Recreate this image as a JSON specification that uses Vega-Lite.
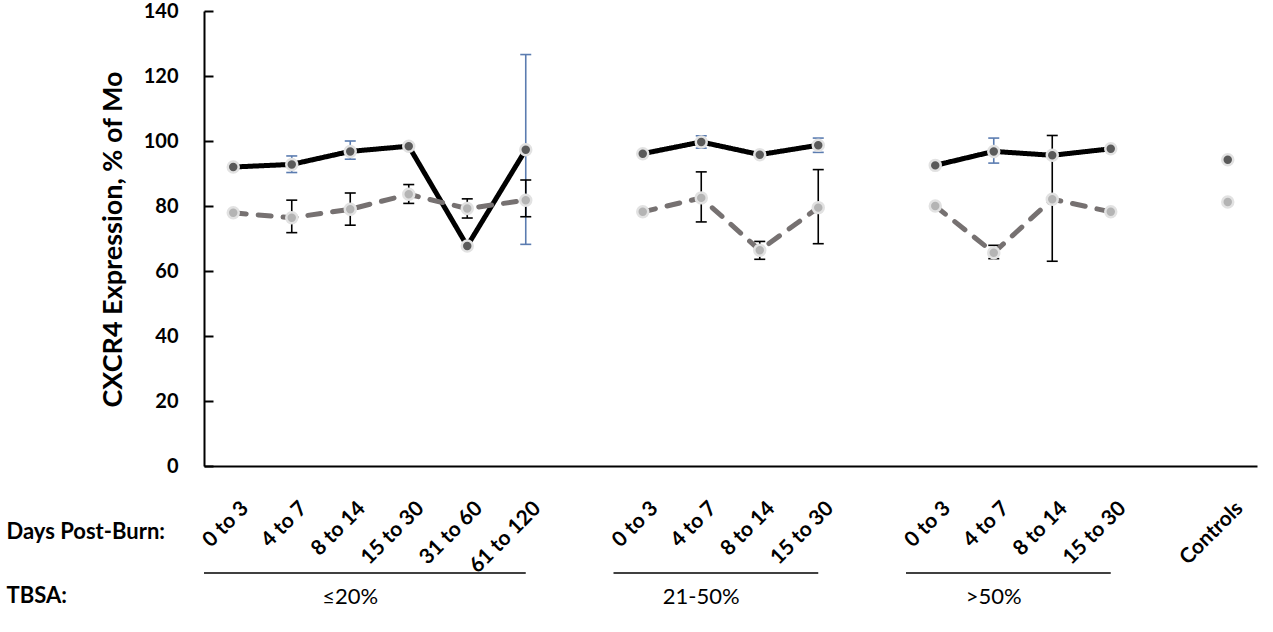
{
  "$schema": "https://vega.github.io/schema/vega-lite/v6.json",
  "padding": {"left": 5, "top": 0, "right": 5, "bottom": 0},
  "bounds": "flush",
  "spacing": 95,
  "datasets": {
    "points": [
      {"series": "CD14+CD16+", "group": "≤20%", "slot": "0 to 3", "pct": 92.0},
      {"series": "CD14+CD16+", "group": "≤20%", "slot": "4 to 7", "pct": 92.8, "lo": 90.3, "hi": 95.4},
      {"series": "CD14+CD16+", "group": "≤20%", "slot": "8 to 14", "pct": 96.8, "lo": 94.4, "hi": 100.0},
      {"series": "CD14+CD16+", "group": "≤20%", "slot": "15 to 30", "pct": 98.4},
      {"series": "CD14+CD16+", "group": "≤20%", "slot": "31 to 60", "pct": 67.7},
      {"series": "CD14+CD16+", "group": "≤20%", "slot": "61 to 120", "pct": 97.3, "lo": 68.2, "hi": 126.6},
      {"series": "CD14+CD16+", "group": "21-50%", "slot": " 0 to 3", "pct": 96.1},
      {"series": "CD14+CD16+", "group": "21-50%", "slot": " 4 to 7", "pct": 99.7, "lo": 97.8, "hi": 101.6},
      {"series": "CD14+CD16+", "group": "21-50%", "slot": " 8 to 14", "pct": 95.8},
      {"series": "CD14+CD16+", "group": "21-50%", "slot": " 15 to 30", "pct": 98.7, "lo": 96.5, "hi": 100.9},
      {"series": "CD14+CD16+", "group": ">50%", "slot": "  0 to 3", "pct": 92.5},
      {"series": "CD14+CD16+", "group": ">50%", "slot": "  4 to 7", "pct": 96.8, "lo": 93.2, "hi": 100.9},
      {"series": "CD14+CD16+", "group": ">50%", "slot": "  8 to 14", "pct": 95.6},
      {"series": "CD14+CD16+", "group": ">50%", "slot": "  15 to 30", "pct": 97.6},
      {"series": "CD14+CD16+", "group": "Controls", "slot": "Controls", "pct": 94.2},
      {"series": "CD14+CD16-", "group": "≤20%", "slot": "0 to 3", "pct": 77.9},
      {"series": "CD14+CD16-", "group": "≤20%", "slot": "4 to 7", "pct": 76.4, "lo": 71.8, "hi": 81.8},
      {"series": "CD14+CD16-", "group": "≤20%", "slot": "8 to 14", "pct": 79.0, "lo": 74.1, "hi": 84.0},
      {"series": "CD14+CD16-", "group": "≤20%", "slot": "15 to 30", "pct": 83.6, "lo": 80.8, "hi": 86.6},
      {"series": "CD14+CD16-", "group": "≤20%", "slot": "31 to 60", "pct": 79.2, "lo": 76.3, "hi": 82.2},
      {"series": "CD14+CD16-", "group": "≤20%", "slot": "61 to 120", "pct": 81.8, "lo": 76.7, "hi": 88.0},
      {"series": "CD14+CD16-", "group": "21-50%", "slot": " 0 to 3", "pct": 78.2},
      {"series": "CD14+CD16-", "group": "21-50%", "slot": " 4 to 7", "pct": 82.5, "lo": 75.1, "hi": 90.5},
      {"series": "CD14+CD16-", "group": "21-50%", "slot": " 8 to 14", "pct": 66.4, "lo": 63.6, "hi": 69.1},
      {"series": "CD14+CD16-", "group": "21-50%", "slot": " 15 to 30", "pct": 79.5, "lo": 68.4, "hi": 91.2},
      {"series": "CD14+CD16-", "group": ">50%", "slot": "  0 to 3", "pct": 80.0},
      {"series": "CD14+CD16-", "group": ">50%", "slot": "  4 to 7", "pct": 65.6, "lo": 63.8, "hi": 67.9},
      {"series": "CD14+CD16-", "group": ">50%", "slot": "  8 to 14", "pct": 82.1, "lo": 63.0, "hi": 101.7},
      {"series": "CD14+CD16-", "group": ">50%", "slot": "  15 to 30", "pct": 78.2},
      {"series": "CD14+CD16-", "group": "Controls", "slot": "Controls", "pct": 81.2}
    ],
    "groups": [
      {"group": "≤20%", "first": "0 to 3", "last": "61 to 120", "mid": "8 to 14"},
      {"group": "21-50%", "first": " 0 to 3", "last": " 15 to 30", "mid": " 4 to 7"},
      {"group": ">50%", "first": "  0 to 3", "last": "  15 to 30", "mid": "  4 to 7"}
    ]
  },
  "vconcat": [
    {
      "width": 1053,
      "height": 455,
      "view": {"stroke": "transparent"},
      "data": {"name": "points"},
      "encoding": {
        "x": {
          "field": "slot",
          "type": "nominal",
          "scale": {
            "type": "band",
            "domain": ["0 to 3", "4 to 7", "8 to 14", "15 to 30", "31 to 60", "61 to 120", " ",
                       " 0 to 3", " 4 to 7", " 8 to 14", " 15 to 30", "  ",
                       "  0 to 3", "  4 to 7", "  8 to 14", "  15 to 30", "   ", "Controls"],
            "paddingInner": 0,
            "paddingOuter": 0
          },
          "axis": {
            "title": "Days Post-Burn:",
            "titleFont": "Lato",
            "titleColor": "black",
            "titleFontSize": 22,
            "titleFontWeight": "bold",
            "titleAngle": 0,
            "titleAlign": "left",
            "titleBaseline": "middle",
            "titleX": -198,
            "titleY": 65,
            "labelAngle": -45,
            "labelAlign": "right",
            "labelBaseline": "middle",
            "labelOffset": 12,
            "labelPadding": 39,
            "labelFont": "Lato",
            "labelFontSize": 21,
            "labelFontWeight": "bold",
            "labelColor": "black",
            "labelOverlap": false,
            "labelBound": false,
            "grid": false,
            "domainColor": "black",
            "domainWidth": 2,
            "ticks": false
          }
        }
      },
      "layer": [
        {
          "transform": [{"filter": "isValid(datum.lo)"}],
          "mark": {"type": "rule", "strokeWidth": 1.6},
          "encoding": {
            "y": {"field": "lo", "type": "quantitative", "title": "CXCR4 Expression, % of Mo"},
            "y2": {"field": "hi"},
            "color": {"field": "series", "type": "nominal", "scale": {"domain": ["CD14+CD16+", "CD14+CD16-"], "range": ["#5b7cb0", "#000000"]}, "legend": null}
          }
        },
        {
          "transform": [{"filter": "isValid(datum.lo)"}],
          "mark": {"type": "tick", "size": 11, "thickness": 1.6, "opacity": 1},
          "encoding": {
            "y": {"field": "lo", "type": "quantitative", "title": "CXCR4 Expression, % of Mo"},
            "color": {"field": "series", "type": "nominal", "legend": null}
          }
        },
        {
          "transform": [{"filter": "isValid(datum.hi)"}],
          "mark": {"type": "tick", "size": 11, "thickness": 1.6, "opacity": 1},
          "encoding": {
            "y": {"field": "hi", "type": "quantitative", "title": "CXCR4 Expression, % of Mo"},
            "color": {"field": "series", "type": "nominal", "legend": null}
          }
        },
        {
          "mark": {"type": "line", "strokeWidth": 5, "strokeCap": "round", "strokeJoin": "round"},
          "encoding": {
            "y": {"field": "pct", "type": "quantitative", "title": "CXCR4 Expression, % of Mo"},
            "stroke": {
              "field": "series",
              "type": "nominal",
              "scale": {"domain": ["CD14+CD16+", "CD14+CD16-"], "range": ["#000000", "#767171"]},
              "legend": {
                "orient": "none",
                "legendX": 855,
                "legendY": -30,
                "title": null,
                "symbolType": "M-1,0H-0.27M0.27,0H1M-0.22,0A0.22,0.22 0 1,0 0.22,0A0.22,0.22 0 1,0 -0.22,0",
                "symbolSize": 3025,
                "symbolStrokeWidth": 4,
                "labelFont": "Lato",
                "labelFontSize": 21,
                "labelFontWeight": "bold",
                "labelColor": "black",
                "labelOffset": 4,
                "rowPadding": -11
              }
            },
            "strokeDash": {"field": "series", "type": "nominal", "scale": {"domain": ["CD14+CD16+", "CD14+CD16-"], "range": [[1, 0], [13, 12]]}, "legend": null},
            "detail": {"field": "group"}
          }
        },
        {
          "mark": {"type": "point", "filled": true, "size": 120, "stroke": "#e2e2e2", "strokeWidth": 2.5, "opacity": 1},
          "encoding": {
            "y": {
              "field": "pct",
              "type": "quantitative",
              "title": "CXCR4 Expression, % of Mo",
              "scale": {"domain": [0, 140]},
              "axis": {
                "values": [0, 20, 40, 60, 80, 100, 120, 140],
                "grid": false,
                "domainColor": "black",
                "domainWidth": 2,
                "tickColor": "black",
                "tickWidth": 2,
                "tickSize": -9,
                "labelPadding": 35,
                "labelFont": "Lato",
                "labelFontSize": 20,
                "labelFontWeight": "bold",
                "labelColor": "black",
                "titleFont": "Lato",
                "titleColor": "black",
                "titleFontSize": 27,
                "titleFontWeight": "bold",
                "titleAngle": -90,
                "titleAlign": "center",
                "titleBaseline": "middle",
                "titleX": -91,
                "titleY": 228
              }
            },
            "fill": {
              "field": "series",
              "type": "nominal",
              "scale": {"domain": ["CD14+CD16+", "CD14+CD16-"], "range": ["#5a5a5a", "#b4b4b4"]},
              "legend": {
                "orient": "none",
                "legendX": 855,
                "legendY": -30,
                "title": null,
                "symbolType": "M-1,0H-0.27M0.27,0H1M-0.22,0A0.22,0.22 0 1,0 0.22,0A0.22,0.22 0 1,0 -0.22,0",
                "symbolSize": 3025,
                "symbolStrokeWidth": 4,
                "labelFont": "Lato",
                "labelFontSize": 21,
                "labelFontWeight": "bold",
                "labelColor": "black",
                "labelOffset": 4,
                "rowPadding": -11
              }
            }
          }
        }
      ]
    },
    {
      "width": 1053,
      "height": 48,
      "view": {"stroke": "transparent"},
      "data": {"name": "groups"},
      "layer": [
        {
          "mark": {"type": "rule", "strokeWidth": 1.5, "color": "black"},
          "encoding": {
            "x": {
              "field": "first",
              "type": "nominal",
              "bandPosition": 0,
              "scale": {
                "type": "band",
                "domain": ["0 to 3", "4 to 7", "8 to 14", "15 to 30", "31 to 60", "61 to 120", " ",
                           " 0 to 3", " 4 to 7", " 8 to 14", " 15 to 30", "  ",
                           "  0 to 3", "  4 to 7", "  8 to 14", "  15 to 30", "   ", "Controls"],
                "paddingInner": 0,
                "paddingOuter": 0
              },
              "axis": null
            },
            "x2": {"field": "last"},
            "y": {
              "datum": "line",
              "type": "nominal",
              "scale": {"type": "point", "domain": ["line", "name"]},
              "axis": {
                "title": "TBSA:",
                "titleFont": "Lato",
                "titleColor": "black",
                "titleFontSize": 22,
                "titleFontWeight": "bold",
                "titleAngle": 0,
                "titleAlign": "left",
                "titleBaseline": "middle",
                "titleX": -198,
                "titleY": 34,
                "labels": false,
                "ticks": false,
                "domain": false,
                "grid": false
              }
            }
          }
        },
        {
          "mark": {"type": "text", "font": "Lato", "fontSize": 22, "color": "black", "baseline": "middle"},
          "encoding": {
            "x": {"field": "mid", "type": "nominal", "axis": null},
            "y": {"datum": "name", "type": "nominal"},
            "text": {"field": "group"}
          }
        }
      ]
    }
  ]
}
